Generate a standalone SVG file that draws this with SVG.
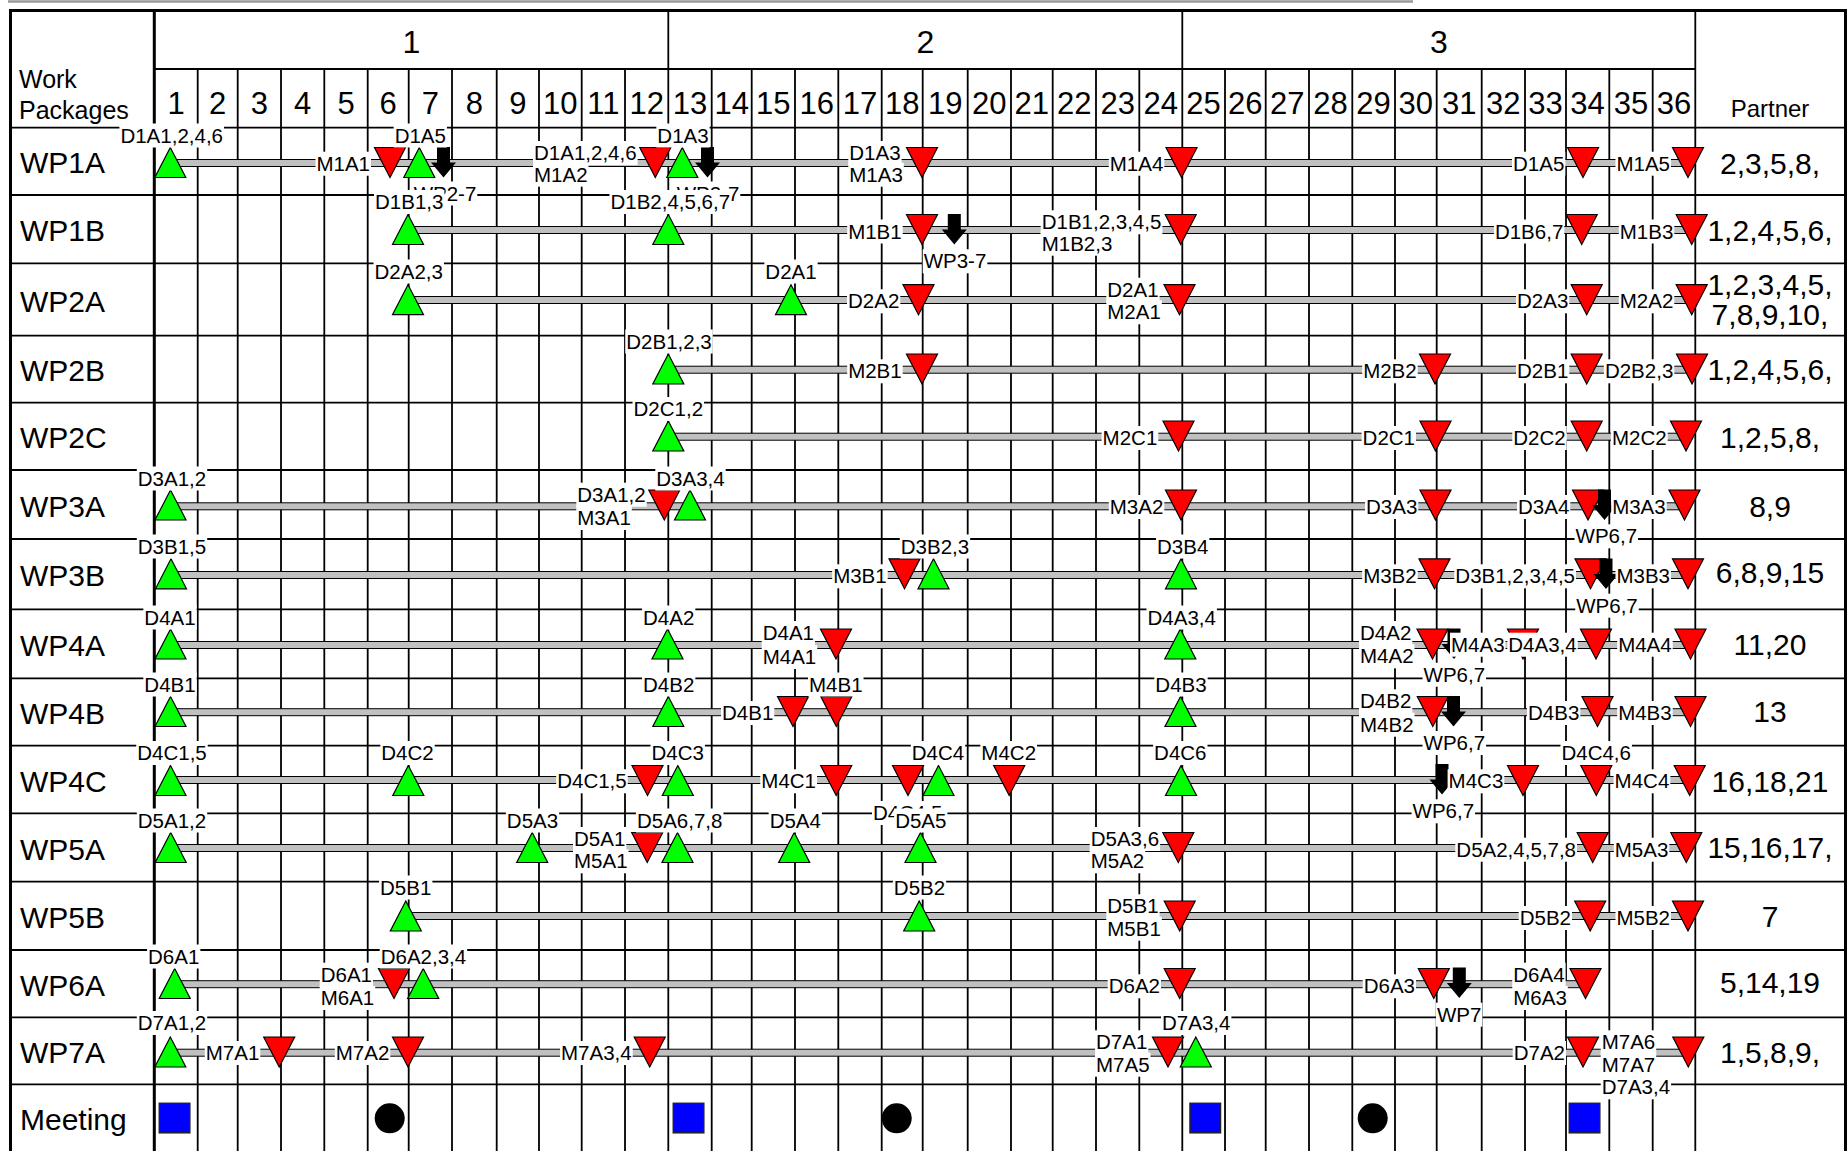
<svg xmlns="http://www.w3.org/2000/svg" xmlns:xlink="http://www.w3.org/1999/xlink" width="1847" height="1151" viewBox="0 0 1847 1151">
<style>
.gl{stroke:#000;stroke-width:1.8;fill:none}
.th{stroke:#000;stroke-width:3;fill:none}
.bar{fill:#c0c0c0;stroke:#000;stroke-width:1}
.up{fill:#00ff00;stroke:#000;stroke-width:1.2}
.dn{fill:#ff0000;stroke:#000;stroke-width:1.2}
.ar{fill:#000}
.w{fill:#fff}
.sq{fill:#0000ff;stroke:#222;stroke-width:1.5}
.ci{fill:#000}
text{font-family:"Liberation Sans",Arial,Helvetica,sans-serif;fill:#000}
.l{font-size:20.5px}
.e{text-anchor:end}
.m{text-anchor:middle}
.wp{font-size:30px}
.pt{font-size:30px;text-anchor:middle}
.mo{font-size:31px;text-anchor:middle}
.yr{font-size:32px;text-anchor:middle}
.hd{font-size:25px}
</style>
<defs>
<path id="tu" d="M0 0L15.5 30H-15.5Z"/>
<path id="td" d="M-15.5 0H15.5L0 30Z"/>
<path id="ta" d="M-6.5 0H6.5V15.5H12.5L0 30.5L-12.5 15.5H-6.5Z"/>
</defs>
<rect width="1847" height="1151" fill="#fff"/>
<line x1="8" y1="1.5" x2="1413" y2="1.5" stroke="#999" stroke-width="2.5"/>
<g id="grid">
<path class="gl" d="M197.7 69V1151M237.7 69V1151M281 69V1151M324.3 69V1151M367.7 69V1151M408.7 69V1151M452 69V1151M496.7 69V1151M539 69V1151M581.7 69V1151M625 69V1151M668.3 10V1151M711.7 69V1151M751.7 69V1151M795 69V1151M838.3 69V1151M881.7 69V1151M922.7 69V1151M967.7 69V1151M1011 69V1151M1052.7 69V1151M1096 69V1151M1139.3 69V1151M1182.3 10V1151M1225 69V1151M1265.7 69V1151M1309 69V1151M1352.3 69V1151M1395 69V1151M1436.7 69V1151M1481.7 69V1151M1525 69V1151M1566 69V1151M1609.3 69V1151M1652.7 69V1151M1695.3 10V1151"/>
<path class="gl" d="M154.3 69H1695.3M10 127.7H1845M10 195H1845M10 263.3H1845M10 335.7H1845M10 402.7H1845M10 470H1845M10 539H1845M10 609.3H1845M10 678.3H1845M10 745.7H1845M10 813.3H1845M10 881.7H1845M10 950H1845M10 1017.3H1845M10 1084.3H1845"/>
<path class="th" d="M10.5 1151V10.5H1845.5V1151M154.3 10V1151"/>
</g>
<g id="header">
<text class="hd" x="19" y="88">Work</text>
<text class="hd" x="19" y="119">Packages</text>
<text x="1770" y="116.7" font-size="24" text-anchor="middle">Partner</text>
<text class="yr" x="411.3" y="53.3">1</text>
<text class="yr" x="925.3" y="53.3">2</text>
<text class="yr" x="1438.8" y="53.3">3</text>
<text class="mo" x="176" y="114">1</text><text class="mo" x="217.7" y="114">2</text><text class="mo" x="259.3" y="114">3</text><text class="mo" x="302.7" y="114">4</text><text class="mo" x="346" y="114">5</text><text class="mo" x="388.2" y="114">6</text><text class="mo" x="430.3" y="114">7</text><text class="mo" x="474.3" y="114">8</text><text class="mo" x="517.8" y="114">9</text><text class="mo" x="560.3" y="114">10</text><text class="mo" x="603.3" y="114">11</text><text class="mo" x="646.7" y="114">12</text><text class="mo" x="690" y="114">13</text><text class="mo" x="731.7" y="114">14</text><text class="mo" x="773.3" y="114">15</text><text class="mo" x="816.7" y="114">16</text><text class="mo" x="860" y="114">17</text><text class="mo" x="902.2" y="114">18</text><text class="mo" x="945.2" y="114">19</text><text class="mo" x="989.3" y="114">20</text><text class="mo" x="1031.8" y="114">21</text><text class="mo" x="1074.3" y="114">22</text><text class="mo" x="1117.7" y="114">23</text><text class="mo" x="1160.8" y="114">24</text><text class="mo" x="1203.6" y="114">25</text><text class="mo" x="1245.3" y="114">26</text><text class="mo" x="1287.3" y="114">27</text><text class="mo" x="1330.6" y="114">28</text><text class="mo" x="1373.6" y="114">29</text><text class="mo" x="1415.8" y="114">30</text><text class="mo" x="1459.2" y="114">31</text><text class="mo" x="1503.3" y="114">32</text><text class="mo" x="1545.5" y="114">33</text><text class="mo" x="1587.6" y="114">34</text><text class="mo" x="1631" y="114">35</text><text class="mo" x="1674" y="114">36</text>
</g>
<g id="connectors">
<rect class="bar" x="170" y="159.5" width="1518" height="7"/>
<rect class="bar" x="408" y="226.5" width="1283.7" height="7"/>
<rect class="bar" x="408" y="296.5" width="1283.7" height="7"/>
<rect class="bar" x="668.3" y="366.2" width="1023.7" height="7"/>
<rect class="bar" x="668.3" y="433.2" width="1017.7" height="7"/>
<rect class="bar" x="170.5" y="502.8" width="1514" height="7"/>
<rect class="bar" x="171" y="571.5" width="1517" height="7"/>
<rect class="bar" x="170.5" y="641.5" width="1520" height="7"/>
<rect class="bar" x="170.5" y="708.7" width="1520" height="7"/>
<rect class="bar" x="170.5" y="776.5" width="1519.2" height="7"/>
<rect class="bar" x="170.7" y="844.5" width="1515.6" height="7"/>
<rect class="bar" x="405.8" y="912.5" width="1282.2" height="7"/>
<rect class="bar" x="174.7" y="980.7" width="1410.8" height="7"/>
<rect class="bar" x="170.3" y="1049.2" width="1518" height="7"/>
</g>
<g id="wp1a">
<text class="wp" x="20" y="173.4">WP1A</text>
<text class="pt" x="1770" y="174">2,3,5,8,</text>
<use href="#tu" class="up" x="170.3" y="147.5"/><use href="#td" class="dn" x="390" y="147.5"/><use href="#tu" class="up" x="419.3" y="147.5"/><use href="#td" class="dn" x="655.3" y="147.5"/><use href="#tu" class="up" x="682.3" y="147.5"/><use href="#td" class="dn" x="922" y="147.5"/><use href="#td" class="dn" x="1181.5" y="147.5"/><use href="#td" class="dn" x="1583" y="147.5"/><use href="#td" class="dn" x="1688" y="147.5"/>
<use href="#ta" class="ar" x="443.5" y="147"/><use href="#ta" class="ar" x="707.5" y="147"/>
<rect class="w" x="119.4" y="123.5" width="104.6" height="24"/><text class="l m" x="171.7" y="142.5">D1A1,2,4,6</text>
<rect class="w" x="315.5" y="151.7" width="55.5" height="24"/><text class="l e" x="370" y="170.7">M1A1</text>
<rect class="w" x="393.65" y="123.5" width="53.3" height="24"/><text class="l m" x="420.3" y="142.5">D1A5</text>
<rect class="w" x="412.7" y="181.5" width="64.6" height="24"/><text class="l m" x="445" y="200.5">WP2-7</text>
<rect class="w" x="533" y="141" width="104.6" height="24"/><text class="l" x="534" y="160">D1A1,2,4,6</text>
<rect class="w" x="533" y="162.7" width="55.5" height="24"/><text class="l" x="534" y="181.7">M1A2</text>
<rect class="w" x="656.35" y="123.5" width="53.3" height="24"/><text class="l m" x="683" y="142.5">D1A3</text>
<rect class="w" x="675.7" y="181.5" width="64.6" height="24"/><text class="l m" x="708" y="200.5">WP2-7</text>
<rect class="w" x="848.3" y="141" width="53.3" height="24"/><text class="l" x="849.3" y="160">D1A3</text>
<rect class="w" x="848.3" y="162.7" width="55.5" height="24"/><text class="l" x="849.3" y="181.7">M1A3</text>
<rect class="w" x="1108.8" y="151.7" width="55.5" height="24"/><text class="l e" x="1163.3" y="170.7">M1A4</text>
<rect class="w" x="1512" y="151.7" width="53.3" height="24"/><text class="l e" x="1564.3" y="170.7">D1A5</text>
<rect class="w" x="1615.5" y="151.7" width="55.5" height="24"/><text class="l e" x="1670" y="170.7">M1A5</text>
</g>
<g id="wp1b">
<text class="wp" x="20" y="241">WP1B</text>
<text class="pt" x="1770" y="240.7">1,2,4,5,6,</text>
<use href="#tu" class="up" x="408" y="214.5"/><use href="#tu" class="up" x="668.3" y="214.5"/><use href="#td" class="dn" x="922" y="214.5"/><use href="#td" class="dn" x="1180.7" y="214.5"/><use href="#td" class="dn" x="1581.7" y="214.5"/><use href="#td" class="dn" x="1691.7" y="214.5"/>
<use href="#ta" class="ar" x="954.3" y="214"/>
<rect class="w" x="374" y="190" width="70.4" height="24"/><text class="l m" x="409.2" y="209">D1B1,3</text>
<rect class="w" x="609.45" y="190" width="121.7" height="24"/><text class="l m" x="670.3" y="209">D1B2,4,5,6,7</text>
<rect class="w" x="847.2" y="219.5" width="55.5" height="24"/><text class="l e" x="901.7" y="238.5">M1B1</text>
<rect class="w" x="922.7" y="249.3" width="64.6" height="24"/><text class="l m" x="955" y="268.3">WP3-7</text>
<rect class="w" x="1040.7" y="210.3" width="121.7" height="24"/><text class="l" x="1041.7" y="229.3">D1B1,2,3,4,5</text>
<rect class="w" x="1040.7" y="231.7" width="72.6" height="24"/><text class="l" x="1041.7" y="250.7">M1B2,3</text>
<rect class="w" x="1493.9" y="219.5" width="70.4" height="24"/><text class="l e" x="1563.3" y="238.5">D1B6,7</text>
<rect class="w" x="1618.8" y="219.5" width="55.5" height="24"/><text class="l e" x="1673.3" y="238.5">M1B3</text>
</g>
<g id="wp2a">
<text class="wp" x="20" y="311.5">WP2A</text>
<text class="pt" x="1770" y="295">1,2,3,4,5,</text>
<text class="pt" x="1770" y="325">7,8,9,10,</text>
<use href="#tu" class="up" x="408" y="284.7"/><use href="#tu" class="up" x="791" y="284.7"/><use href="#td" class="dn" x="918.5" y="284.7"/><use href="#td" class="dn" x="1179.5" y="284.7"/><use href="#td" class="dn" x="1586.7" y="284.7"/><use href="#td" class="dn" x="1691.7" y="284.7"/>
<rect class="w" x="373.5" y="259.5" width="70.4" height="24"/><text class="l m" x="408.7" y="278.5">D2A2,3</text>
<rect class="w" x="764.35" y="259.5" width="53.3" height="24"/><text class="l m" x="791" y="278.5">D2A1</text>
<rect class="w" x="847" y="289.3" width="53.3" height="24"/><text class="l e" x="899.3" y="308.3">D2A2</text>
<rect class="w" x="1106.3" y="277.7" width="53.3" height="24"/><text class="l" x="1107.3" y="296.7">D2A1</text>
<rect class="w" x="1106.3" y="300.3" width="55.5" height="24"/><text class="l" x="1107.3" y="319.3">M2A1</text>
<rect class="w" x="1516" y="289.3" width="53.3" height="24"/><text class="l e" x="1568.3" y="308.3">D2A3</text>
<rect class="w" x="1618.8" y="289.3" width="55.5" height="24"/><text class="l e" x="1673.3" y="308.3">M2A2</text>
</g>
<g id="wp2b">
<text class="wp" x="20" y="381">WP2B</text>
<text class="pt" x="1770" y="380">1,2,4,5,6,</text>
<use href="#tu" class="up" x="668.3" y="354"/><use href="#td" class="dn" x="922" y="354"/><use href="#td" class="dn" x="1435" y="354"/><use href="#td" class="dn" x="1586.7" y="354"/><use href="#td" class="dn" x="1692" y="354"/>
<rect class="w" x="625.25" y="329.5" width="87.5" height="24"/><text class="l m" x="669" y="348.5">D2B1,2,3</text>
<rect class="w" x="847.2" y="359.3" width="55.5" height="24"/><text class="l e" x="901.7" y="378.3">M2B1</text>
<rect class="w" x="1362.2" y="359.3" width="55.5" height="24"/><text class="l e" x="1416.7" y="378.3">M2B2</text>
<rect class="w" x="1516" y="359.3" width="53.3" height="24"/><text class="l e" x="1568.3" y="378.3">D2B1</text>
<rect class="w" x="1603.9" y="359.3" width="70.4" height="24"/><text class="l e" x="1673.3" y="378.3">D2B2,3</text>
</g>
<g id="wp2c">
<text class="wp" x="20" y="448.3">WP2C</text>
<text class="pt" x="1770" y="448.3">1,2,5,8,</text>
<use href="#tu" class="up" x="668.3" y="421"/><use href="#td" class="dn" x="1178.5" y="421"/><use href="#td" class="dn" x="1435.5" y="421"/><use href="#td" class="dn" x="1586.7" y="421"/><use href="#td" class="dn" x="1686" y="421"/>
<rect class="w" x="632.55" y="397" width="71.5" height="24"/><text class="l m" x="668.3" y="416">D2C1,2</text>
<rect class="w" x="1101.6" y="426" width="56.7" height="24"/><text class="l e" x="1157.3" y="445">M2C1</text>
<rect class="w" x="1361.6" y="426" width="54.4" height="24"/><text class="l e" x="1415" y="445">D2C1</text>
<rect class="w" x="1512.3" y="426" width="54.4" height="24"/><text class="l e" x="1565.7" y="445">D2C2</text>
<rect class="w" x="1611" y="426" width="56.7" height="24"/><text class="l e" x="1666.7" y="445">M2C2</text>
</g>
<g id="wp3a">
<text class="wp" x="20" y="516.5">WP3A</text>
<text class="pt" x="1770" y="516.7">8,9</text>
<use href="#tu" class="up" x="170.5" y="490"/><use href="#td" class="dn" x="664.3" y="490"/><use href="#tu" class="up" x="690" y="490"/><use href="#td" class="dn" x="1181" y="490"/><use href="#td" class="dn" x="1435.5" y="490"/><use href="#td" class="dn" x="1588" y="490"/><use href="#td" class="dn" x="1684.5" y="490"/>
<use href="#ta" class="ar" x="1604.5" y="489.5"/>
<rect class="w" x="136.8" y="466.5" width="70.4" height="24"/><text class="l m" x="172" y="485.5">D3A1,2</text>
<rect class="w" x="576.3" y="482.7" width="70.4" height="24"/><text class="l" x="577.3" y="501.7">D3A1,2</text>
<rect class="w" x="576.3" y="506" width="55.5" height="24"/><text class="l" x="577.3" y="525">M3A1</text>
<rect class="w" x="655.3" y="466.5" width="70.4" height="24"/><text class="l m" x="690.5" y="485.5">D3A3,4</text>
<rect class="w" x="1108.8" y="495" width="55.5" height="24"/><text class="l e" x="1163.3" y="514">M3A2</text>
<rect class="w" x="1365" y="495" width="53.3" height="24"/><text class="l e" x="1417.3" y="514">D3A3</text>
<rect class="w" x="1517" y="495" width="53.3" height="24"/><text class="l e" x="1569.3" y="514">D3A4</text>
<rect class="w" x="1574.55" y="524.3" width="63.5" height="24"/><text class="l m" x="1606.3" y="543.3">WP6,7</text>
<rect class="w" x="1611.2" y="495" width="55.5" height="24"/><text class="l e" x="1665.7" y="514">M3A3</text>
</g>
<g id="wp3b">
<text class="wp" x="20" y="586">WP3B</text>
<text class="pt" x="1770" y="583.3">6,8,9,15</text>
<use href="#tu" class="up" x="171" y="558.8"/><use href="#td" class="dn" x="904.5" y="558.8"/><use href="#tu" class="up" x="933.5" y="558.8"/><use href="#tu" class="up" x="1181" y="558.8"/><use href="#td" class="dn" x="1434.5" y="558.8"/><use href="#td" class="dn" x="1590.5" y="558.8"/><use href="#td" class="dn" x="1688" y="558.8"/>
<use href="#ta" class="ar" x="1606" y="558.5"/>
<rect class="w" x="136.8" y="534.5" width="70.4" height="24"/><text class="l m" x="172" y="553.5">D3B1,5</text>
<rect class="w" x="832.2" y="564.3" width="55.5" height="24"/><text class="l e" x="886.7" y="583.3">M3B1</text>
<rect class="w" x="899.8" y="534.5" width="70.4" height="24"/><text class="l m" x="935" y="553.5">D3B2,3</text>
<rect class="w" x="1156.05" y="534.5" width="53.3" height="24"/><text class="l m" x="1182.7" y="553.5">D3B4</text>
<rect class="w" x="1362.2" y="564.3" width="55.5" height="24"/><text class="l e" x="1416.7" y="583.3">M3B2</text>
<rect class="w" x="1454.3" y="564.3" width="121.7" height="24"/><text class="l e" x="1575" y="583.3">D3B1,2,3,4,5</text>
<rect class="w" x="1575.25" y="593.7" width="63.5" height="24"/><text class="l m" x="1607" y="612.7">WP6,7</text>
<rect class="w" x="1615.5" y="564.3" width="55.5" height="24"/><text class="l e" x="1670" y="583.3">M3B3</text>
</g>
<g id="wp4a">
<text class="wp" x="20" y="655.8">WP4A</text>
<text class="pt" x="1770" y="655">11,20</text>
<use href="#tu" class="up" x="170.5" y="629"/><use href="#tu" class="up" x="667.5" y="629"/><use href="#td" class="dn" x="836" y="629"/><use href="#tu" class="up" x="1180.3" y="629"/><use href="#td" class="dn" x="1432.5" y="629"/><use href="#td" class="dn" x="1523" y="629"/><use href="#td" class="dn" x="1596" y="629"/><use href="#td" class="dn" x="1690.5" y="629"/>
<use href="#ta" class="ar" x="1454" y="628.5"/>
<rect class="w" x="143.35" y="605.5" width="53.3" height="24"/><text class="l m" x="170" y="624.5">D4A1</text>
<rect class="w" x="642.05" y="605.5" width="53.3" height="24"/><text class="l m" x="668.7" y="624.5">D4A2</text>
<rect class="w" x="761.7" y="621" width="53.3" height="24"/><text class="l" x="762.7" y="640">D4A1</text>
<rect class="w" x="761.7" y="645" width="55.5" height="24"/><text class="l" x="762.7" y="664">M4A1</text>
<rect class="w" x="1146.5" y="605.5" width="70.4" height="24"/><text class="l m" x="1181.7" y="624.5">D4A3,4</text>
<rect class="w" x="1359" y="621" width="53.3" height="24"/><text class="l" x="1360" y="640">D4A2</text>
<rect class="w" x="1359" y="644.3" width="55.5" height="24"/><text class="l" x="1360" y="663.3">M4A2</text>
<rect class="w" x="1422.55" y="662.7" width="63.5" height="24"/><text class="l m" x="1454.3" y="681.7">WP6,7</text>
<rect class="w" x="1450" y="632.7" width="55.5" height="24"/><text class="l" x="1451" y="651.7">M4A3</text>
<rect class="w" x="1507.3" y="632.7" width="70.4" height="24"/><text class="l" x="1508.3" y="651.7">D4A3,4</text>
<rect class="w" x="1617.2" y="632.7" width="55.5" height="24"/><text class="l e" x="1671.7" y="651.7">M4A4</text>
</g>
<g id="wp4b">
<text class="wp" x="20" y="724">WP4B</text>
<text class="pt" x="1770" y="721.7">13</text>
<use href="#tu" class="up" x="170.5" y="696.5"/><use href="#tu" class="up" x="668.3" y="696.5"/><use href="#td" class="dn" x="793" y="696.5"/><use href="#td" class="dn" x="836.3" y="696.5"/><use href="#tu" class="up" x="1180.5" y="696.5"/><use href="#td" class="dn" x="1432.8" y="696.5"/><use href="#td" class="dn" x="1597.5" y="696.5"/><use href="#td" class="dn" x="1690.5" y="696.5"/>
<use href="#ta" class="ar" x="1453.5" y="696"/>
<rect class="w" x="143.35" y="672.5" width="53.3" height="24"/><text class="l m" x="170" y="691.5">D4B1</text>
<rect class="w" x="642.05" y="672.5" width="53.3" height="24"/><text class="l m" x="668.7" y="691.5">D4B2</text>
<rect class="w" x="721" y="701" width="53.3" height="24"/><text class="l e" x="773.3" y="720">D4B1</text>
<rect class="w" x="808.05" y="672.5" width="55.5" height="24"/><text class="l m" x="835.8" y="691.5">M4B1</text>
<rect class="w" x="1154.35" y="672.5" width="53.3" height="24"/><text class="l m" x="1181" y="691.5">D4B3</text>
<rect class="w" x="1359" y="689.3" width="53.3" height="24"/><text class="l" x="1360" y="708.3">D4B2</text>
<rect class="w" x="1359" y="712.7" width="55.5" height="24"/><text class="l" x="1360" y="731.7">M4B2</text>
<rect class="w" x="1422.55" y="731" width="63.5" height="24"/><text class="l m" x="1454.3" y="750">WP6,7</text>
<rect class="w" x="1527" y="701" width="53.3" height="24"/><text class="l e" x="1579.3" y="720">D4B3</text>
<rect class="w" x="1617.2" y="701" width="55.5" height="24"/><text class="l e" x="1671.7" y="720">M4B3</text>
</g>
<g id="wp4c">
<text class="wp" x="20" y="791.5">WP4C</text>
<text class="pt" x="1770" y="791.7">16,18,21</text>
<use href="#tu" class="up" x="170.5" y="765.5"/><use href="#tu" class="up" x="408.3" y="765.5"/><use href="#td" class="dn" x="647.5" y="765.5"/><use href="#tu" class="up" x="677.8" y="765.5"/><use href="#td" class="dn" x="836.2" y="765.5"/><use href="#td" class="dn" x="908" y="765.5"/><use href="#tu" class="up" x="938.5" y="765.5"/><use href="#td" class="dn" x="1009.2" y="765.5"/><use href="#tu" class="up" x="1181" y="765.5"/><use href="#td" class="dn" x="1523" y="765.5"/><use href="#td" class="dn" x="1596.3" y="765.5"/><use href="#td" class="dn" x="1689.7" y="765.5"/>
<use href="#ta" class="ar" x="1442" y="764"/>
<rect class="w" x="136.25" y="741" width="71.5" height="24"/><text class="l m" x="172" y="760">D4C1,5</text>
<rect class="w" x="380.3" y="741" width="54.4" height="24"/><text class="l m" x="407.5" y="760">D4C2</text>
<rect class="w" x="556.2" y="769.3" width="71.5" height="24"/><text class="l e" x="626.7" y="788.3">D4C1,5</text>
<rect class="w" x="650.5" y="741" width="54.4" height="24"/><text class="l m" x="677.7" y="760">D4C3</text>
<rect class="w" x="760.3" y="769.3" width="56.7" height="24"/><text class="l e" x="816" y="788.3">M4C1</text>
<rect class="w" x="910.8" y="741" width="54.4" height="24"/><text class="l m" x="938" y="760">D4C4</text>
<rect class="w" x="872" y="801" width="71.5" height="24"/><text class="l" x="873" y="820">D4C4,5</text>
<rect class="w" x="980.35" y="741" width="56.7" height="24"/><text class="l m" x="1008.7" y="760">M4C2</text>
<rect class="w" x="1153.1" y="741" width="54.4" height="24"/><text class="l m" x="1180.3" y="760">D4C6</text>
<rect class="w" x="1411.55" y="799.3" width="63.5" height="24"/><text class="l m" x="1443.3" y="818.3">WP6,7</text>
<rect class="w" x="1447.6" y="769.3" width="56.7" height="24"/><text class="l e" x="1503.3" y="788.3">M4C3</text>
<rect class="w" x="1560.45" y="741" width="71.5" height="24"/><text class="l m" x="1596.2" y="760">D4C4,6</text>
<rect class="w" x="1613.6" y="769.3" width="56.7" height="24"/><text class="l e" x="1669.3" y="788.3">M4C4</text>
</g>
<g id="wp5a">
<text class="wp" x="20" y="859.5">WP5A</text>
<text class="pt" x="1770" y="858.3">15,16,17,</text>
<use href="#tu" class="up" x="170.7" y="832.5"/><use href="#tu" class="up" x="532.2" y="832.5"/><use href="#td" class="dn" x="647.2" y="832.5"/><use href="#tu" class="up" x="677.5" y="832.5"/><use href="#tu" class="up" x="794.2" y="832.5"/><use href="#tu" class="up" x="920.5" y="832.5"/><use href="#td" class="dn" x="1178.3" y="832.5"/><use href="#td" class="dn" x="1592.7" y="832.5"/><use href="#td" class="dn" x="1686.3" y="832.5"/>
<rect class="w" x="136.8" y="808.5" width="70.4" height="24"/><text class="l m" x="172" y="827.5">D5A1,2</text>
<rect class="w" x="505.85" y="808.5" width="53.3" height="24"/><text class="l m" x="532.5" y="827.5">D5A3</text>
<rect class="w" x="573" y="827" width="53.3" height="24"/><text class="l" x="574" y="846">D5A1</text>
<rect class="w" x="573" y="849.3" width="55.5" height="24"/><text class="l" x="574" y="868.3">M5A1</text>
<rect class="w" x="635.95" y="808.5" width="87.5" height="24"/><text class="l m" x="679.7" y="827.5">D5A6,7,8</text>
<rect class="w" x="768.65" y="808.5" width="53.3" height="24"/><text class="l m" x="795.3" y="827.5">D5A4</text>
<rect class="w" x="894.15" y="808.5" width="53.3" height="24"/><text class="l m" x="920.8" y="827.5">D5A5</text>
<rect class="w" x="1089.7" y="827" width="70.4" height="24"/><text class="l" x="1090.7" y="846">D5A3,6</text>
<rect class="w" x="1089.7" y="849.3" width="55.5" height="24"/><text class="l" x="1090.7" y="868.3">M5A2</text>
<rect class="w" x="1455.3" y="837.7" width="121.7" height="24"/><text class="l e" x="1576" y="856.7">D5A2,4,5,7,8</text>
<rect class="w" x="1613.8" y="837.7" width="55.5" height="24"/><text class="l e" x="1668.3" y="856.7">M5A3</text>
</g>
<g id="wp5b">
<text class="wp" x="20" y="927.8">WP5B</text>
<text class="pt" x="1770" y="926.7">7</text>
<use href="#tu" class="up" x="405.8" y="901"/><use href="#tu" class="up" x="919.2" y="901"/><use href="#td" class="dn" x="1179.7" y="901"/><use href="#td" class="dn" x="1590.2" y="901"/><use href="#td" class="dn" x="1688" y="901"/>
<rect class="w" x="379.05" y="875.5" width="53.3" height="24"/><text class="l m" x="405.7" y="894.5">D5B1</text>
<rect class="w" x="892.85" y="875.5" width="53.3" height="24"/><text class="l m" x="919.5" y="894.5">D5B2</text>
<rect class="w" x="1106.3" y="894.3" width="53.3" height="24"/><text class="l" x="1107.3" y="913.3">D5B1</text>
<rect class="w" x="1106.3" y="916.7" width="55.5" height="24"/><text class="l" x="1107.3" y="935.7">M5B1</text>
<rect class="w" x="1518.7" y="906" width="53.3" height="24"/><text class="l e" x="1571" y="925">D5B2</text>
<rect class="w" x="1615.5" y="906" width="55.5" height="24"/><text class="l e" x="1670" y="925">M5B2</text>
</g>
<g id="wp6a">
<text class="wp" x="20" y="995.6">WP6A</text>
<text class="pt" x="1770" y="993.3">5,14,19</text>
<use href="#tu" class="up" x="174.7" y="968.5"/><use href="#td" class="dn" x="394" y="968.5"/><use href="#tu" class="up" x="423.2" y="968.5"/><use href="#td" class="dn" x="1179.7" y="968.5"/><use href="#td" class="dn" x="1433.8" y="968.5"/><use href="#td" class="dn" x="1585.5" y="968.5"/>
<use href="#ta" class="ar" x="1459.3" y="967.5"/>
<rect class="w" x="147.05" y="944.5" width="53.3" height="24"/><text class="l m" x="173.7" y="963.5">D6A1</text>
<rect class="w" x="319.7" y="962.7" width="53.3" height="24"/><text class="l" x="320.7" y="981.7">D6A1</text>
<rect class="w" x="319.7" y="986" width="55.5" height="24"/><text class="l" x="320.7" y="1005">M6A1</text>
<rect class="w" x="379.7" y="944.5" width="87.5" height="24"/><text class="l" x="380.7" y="963.5">D6A2,3,4</text>
<rect class="w" x="1107.7" y="974.3" width="53.3" height="24"/><text class="l e" x="1160" y="993.3">D6A2</text>
<rect class="w" x="1362.7" y="974.3" width="53.3" height="24"/><text class="l e" x="1415" y="993.3">D6A3</text>
<rect class="w" x="1436" y="1002.7" width="46.4" height="24"/><text class="l m" x="1459.2" y="1021.7">WP7</text>
<rect class="w" x="1512.3" y="962.7" width="53.3" height="24"/><text class="l" x="1513.3" y="981.7">D6A4</text>
<rect class="w" x="1512.3" y="986" width="55.5" height="24"/><text class="l" x="1513.3" y="1005">M6A3</text>
</g>
<g id="wp7a">
<text class="wp" x="20" y="1062.8">WP7A</text>
<text class="pt" x="1770" y="1063.3">1,5,8,9,</text>
<use href="#tu" class="up" x="170.3" y="1037"/><use href="#td" class="dn" x="279.2" y="1037"/><use href="#td" class="dn" x="408" y="1037"/><use href="#td" class="dn" x="649.7" y="1037"/><use href="#td" class="dn" x="1168" y="1037"/><use href="#tu" class="up" x="1195.8" y="1037"/><use href="#td" class="dn" x="1583" y="1037"/><use href="#td" class="dn" x="1688.3" y="1037"/>
<rect class="w" x="136.8" y="1011" width="70.4" height="24"/><text class="l m" x="172" y="1030">D7A1,2</text>
<rect class="w" x="204.8" y="1041" width="55.5" height="24"/><text class="l e" x="259.3" y="1060">M7A1</text>
<rect class="w" x="334.8" y="1041" width="55.5" height="24"/><text class="l e" x="389.3" y="1060">M7A2</text>
<rect class="w" x="560.1" y="1041" width="72.6" height="24"/><text class="l e" x="631.7" y="1060">M7A3,4</text>
<rect class="w" x="1095" y="1030.3" width="53.3" height="24"/><text class="l" x="1096" y="1049.3">D7A1</text>
<rect class="w" x="1095" y="1052.7" width="55.5" height="24"/><text class="l" x="1096" y="1071.7">M7A5</text>
<rect class="w" x="1161" y="1011" width="70.4" height="24"/><text class="l m" x="1196.2" y="1030">D7A3,4</text>
<rect class="w" x="1512.7" y="1041" width="53.3" height="24"/><text class="l e" x="1565" y="1060">D7A2</text>
<rect class="w" x="1600.7" y="1030.3" width="55.5" height="24"/><text class="l" x="1601.7" y="1049.3">M7A6</text>
<rect class="w" x="1600.7" y="1052.7" width="55.5" height="24"/><text class="l" x="1601.7" y="1071.7">M7A7</text>
<rect class="w" x="1600.7" y="1075.3" width="70.4" height="24"/><text class="l" x="1601.7" y="1094.3">D7A3,4</text>
</g>
<g id="meeting">
<text class="wp" x="20" y="1130">Meeting</text>
<rect class="sq" x="159.3" y="1103.3" width="30.5" height="29.5"/>
<rect class="sq" x="673.3" y="1103.3" width="30.5" height="29.5"/>
<rect class="sq" x="1190" y="1103.3" width="30.5" height="29.5"/>
<rect class="sq" x="1569.3" y="1103.3" width="30.5" height="29.5"/>
<circle class="ci" cx="389.7" cy="1118.3" r="15"/>
<circle class="ci" cx="896.7" cy="1118.3" r="15"/>
<circle class="ci" cx="1372.7" cy="1118.3" r="15"/>
</g>
</svg>
